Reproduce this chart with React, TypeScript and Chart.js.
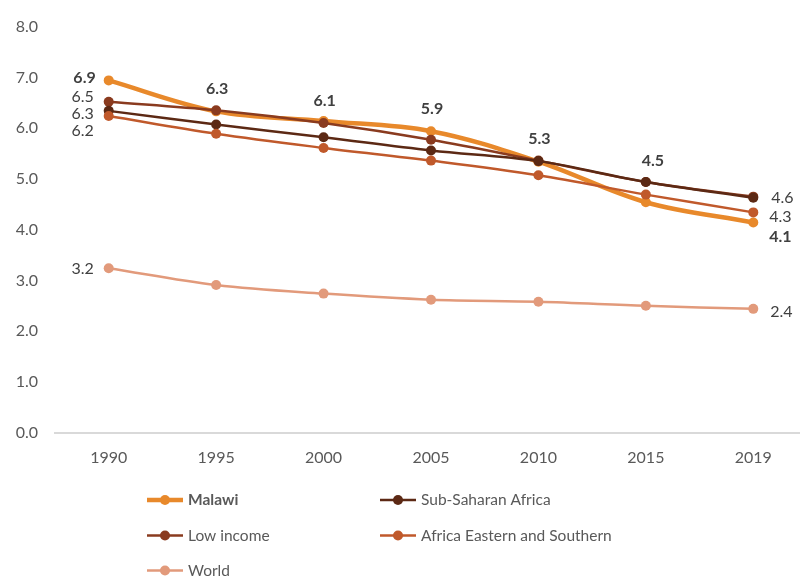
import { useEffect, useRef } from "react";
import { Chart, registerables } from "chart.js";

Chart.register(...registerables);

// Total fertility rate (births per woman)
const years = ["1990", "1995", "2000", "2005", "2010", "2015", "2019"];
const malawi = [6.94, 6.33, 6.14, 5.94, 5.34, 4.54, 4.14];
const subSaharanAfrica = [6.34, 6.07, 5.82, 5.56, 5.35, 4.94, 4.63];
const lowIncome = [6.52, 6.35, 6.1, 5.77, 5.36, 4.94, 4.65];
const africaEasternSouthern = [6.24, 5.89, 5.61, 5.36, 5.07, 4.69, 4.34];
const world = [3.24, 2.91, 2.74, 2.62, 2.58, 2.5, 2.44];

const FONT = "Lato, 'Open Sans', sans-serif";
const TICK_COLOR = "#595959";
const LABEL_COLOR = "#404040";

type LabelSpec = { index: number; dx: number; dy: number; align: CanvasTextAlign };

type Series = {
  name: string;
  data: number[];
  color: string;
  width: number;
  bold: boolean;
  order: number;
  labels: LabelSpec[];
};

const series: Series[] = [
  {
    name: "Malawi",
    data: malawi,
    color: "#E8892B",
    width: 4.5,
    bold: true,
    order: 5,
    labels: [
      { index: 0, dx: -13, dy: -3, align: "right" },
      { index: 1, dx: 1, dy: -23, align: "center" },
      { index: 2, dx: 1, dy: -20, align: "center" },
      { index: 3, dx: 1, dy: -22, align: "center" },
      { index: 4, dx: 1, dy: -23, align: "center" },
      { index: 5, dx: 7, dy: -41, align: "center" },
      { index: 6, dx: 16, dy: 14, align: "left" },
    ],
  },
  {
    name: "Sub-Saharan Africa",
    data: subSaharanAfrica,
    color: "#5C2914",
    width: 2.5,
    bold: false,
    order: 3,
    labels: [
      { index: 0, dx: -15, dy: 3, align: "right" },
      { index: 6, dx: 18, dy: 0, align: "left" },
    ],
  },
  {
    name: "Low income",
    data: lowIncome,
    color: "#8A3B1F",
    width: 2.5,
    bold: false,
    order: 4,
    labels: [{ index: 0, dx: -15, dy: -5, align: "right" }],
  },
  {
    name: "Africa Eastern and Southern",
    data: africaEasternSouthern,
    color: "#C0592B",
    width: 2.5,
    bold: false,
    order: 2,
    labels: [
      { index: 0, dx: -15, dy: 15, align: "right" },
      { index: 6, dx: 16, dy: 4, align: "left" },
    ],
  },
  {
    name: "World",
    data: world,
    color: "#E29A7B",
    width: 2.5,
    bold: false,
    order: 1,
    labels: [
      { index: 0, dx: -15, dy: 1, align: "right" },
      { index: 6, dx: 17, dy: 3, align: "left" },
    ],
  },
];

// Value labels next to selected points
const valueLabels = {
  id: "valueLabels",
  afterDatasetsDraw(chart: Chart) {
    const ctx = chart.ctx;
    ctx.save();
    ctx.textBaseline = "middle";
    series.forEach((s, i) => {
      const meta = chart.getDatasetMeta(i);
      ctx.font = `${s.bold ? "bold " : ""}16px ${FONT}`;
      ctx.fillStyle = LABEL_COLOR;
      s.labels.forEach((l) => {
        const pt = meta.data[l.index];
        if (!pt) return;
        ctx.textAlign = l.align;
        ctx.fillText(s.data[l.index].toFixed(1), pt.x + l.dx, pt.y + l.dy);
      });
    });
    ctx.restore();
  },
};

// Two-column legend under the plot
const columnLegend = {
  id: "columnLegend",
  afterDraw(chart: Chart) {
    const ctx = chart.ctx;
    const colX = [147, 380];
    const rowY = [500, 535.5, 570.5];
    ctx.save();
    ctx.textBaseline = "middle";
    ctx.textAlign = "left";
    series.forEach((s, i) => {
      const x = colX[i % 2];
      const y = rowY[Math.floor(i / 2)];
      ctx.strokeStyle = s.color;
      ctx.lineWidth = s.width;
      ctx.beginPath();
      ctx.moveTo(x, y);
      ctx.lineTo(x + 36, y);
      ctx.stroke();
      ctx.fillStyle = s.color;
      ctx.beginPath();
      ctx.arc(x + 18, y, 5, 0, Math.PI * 2);
      ctx.fill();
      ctx.font = `${s.bold ? "bold " : ""}15.5px ${FONT}`;
      ctx.fillStyle = TICK_COLOR;
      ctx.fillText(s.name, x + 41, y);
    });
    ctx.restore();
  },
};

export default function App() {
  const canvasRef = useRef<HTMLCanvasElement | null>(null);

  useEffect(() => {
    if (!canvasRef.current) return;
    const chart = new Chart(canvasRef.current, {
      type: "line",
      data: {
        labels: years,
        datasets: series.map((s) => ({
          label: s.name,
          data: s.data,
          borderColor: s.color,
          backgroundColor: s.color,
          borderWidth: s.width,
          pointRadius: 5,
          pointBorderWidth: 0,
          pointBackgroundColor: s.color,
          tension: 0.35,
          order: s.order,
          fill: false,
        })),
      },
      options: {
        responsive: false,
        animation: false,
        layout: { padding: { top: 25, right: 2, bottom: 100, left: 0 } },
        plugins: {
          legend: { display: false },
          tooltip: { enabled: false },
        },
        scales: {
          x: {
            offset: true,
            grid: { display: true, color: "rgba(0,0,0,0)", drawTicks: false, offset: true },
            border: { display: true, color: "#D9D9D9", width: 2 },
            ticks: {
              color: TICK_COLOR,
              font: { family: FONT, size: 16 },
              padding: 16,
              maxRotation: 0,
            },
            afterFit(scale: any) {
              scale.height = 45.3;
            },
          },
          y: {
            min: 0,
            max: 8,
            grid: { display: false, drawTicks: false },
            border: { display: false },
            ticks: {
              stepSize: 1,
              color: TICK_COLOR,
              font: { family: FONT, size: 16 },
              padding: 17,
              callback: (v: any) => Number(v).toFixed(1),
            },
            afterFit(scale: any) {
              scale.width = 55;
            },
          },
        },
      },
      plugins: [valueLabels, columnLegend],
    });
    return () => chart.destroy();
  }, []);

  return (
    <div
      style={{
        position: "fixed",
        left: 0,
        top: 0,
        width: 800,
        height: 578,
        overflow: "hidden",
        background: "#fff",
      }}
    >
      <canvas ref={canvasRef} width={812} height={578} style={{ display: "block" }} />
    </div>
  );
}
